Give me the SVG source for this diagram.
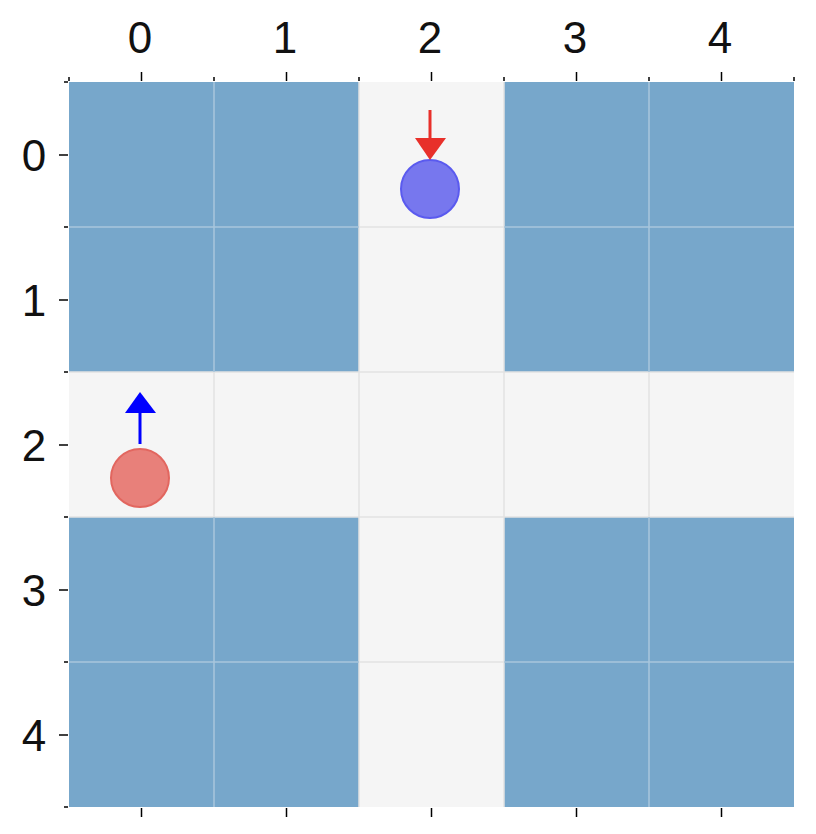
<svg xmlns="http://www.w3.org/2000/svg" width="816" height="834" viewBox="0 0 816 834">
<style>
.w{fill:#77a7cb}
.f{fill:#f5f5f5}
.gl{stroke:#e2e2e2;stroke-width:1.5}
.gw{stroke:#a8c6dd;stroke-width:1.5}
.tk{stroke:#000;stroke-width:1.5}
.lbl{font-family:"Liberation Sans","DejaVu Sans",sans-serif;font-size:44px;fill:#111}
</style>
<rect width="816" height="834" fill="#fff"/>
<g id="grid">
<rect class="f" x="69" y="82" width="725" height="725"/>
<rect class="w" x="69" y="82" width="290" height="290"/>
<rect class="w" x="504" y="82" width="290" height="290"/>
<rect class="w" x="69" y="517" width="290" height="290"/>
<rect class="w" x="504" y="517" width="290" height="290"/>
<g class="gl">
<line x1="359" y1="227" x2="504" y2="227"/>
<line x1="69" y1="372" x2="794" y2="372"/>
<line x1="69" y1="517" x2="794" y2="517"/>
<line x1="359" y1="662" x2="504" y2="662"/>
<line x1="214" y1="372" x2="214" y2="517"/>
<line x1="359" y1="82" x2="359" y2="807"/>
<line x1="504" y1="82" x2="504" y2="807"/>
<line x1="649" y1="372" x2="649" y2="517"/>
</g>
<g class="gw">
<line x1="214" y1="82" x2="214" y2="372"/>
<line x1="649" y1="82" x2="649" y2="372"/>
<line x1="214" y1="517" x2="214" y2="807"/>
<line x1="649" y1="517" x2="649" y2="807"/>
<line x1="69" y1="227" x2="359" y2="227"/>
<line x1="504" y1="227" x2="794" y2="227"/>
<line x1="69" y1="662" x2="359" y2="662"/>
<line x1="504" y1="662" x2="794" y2="662"/>
</g>
</g>
<g id="axes">
<g class="tk">
<line x1="141.5" y1="72" x2="141.5" y2="81"/>
<line x1="286.5" y1="72" x2="286.5" y2="81"/>
<line x1="431.5" y1="72" x2="431.5" y2="81"/>
<line x1="576.5" y1="72" x2="576.5" y2="81"/>
<line x1="721.5" y1="72" x2="721.5" y2="81"/>
<line x1="69" y1="77" x2="69" y2="81"/>
<line x1="214" y1="77" x2="214" y2="81"/>
<line x1="359" y1="77" x2="359" y2="81"/>
<line x1="504" y1="77" x2="504" y2="81"/>
<line x1="649" y1="77" x2="649" y2="81"/>
<line x1="794" y1="77" x2="794" y2="81"/>
<line x1="141.5" y1="808" x2="141.5" y2="817"/>
<line x1="286.5" y1="808" x2="286.5" y2="817"/>
<line x1="431.5" y1="808" x2="431.5" y2="817"/>
<line x1="576.5" y1="808" x2="576.5" y2="817"/>
<line x1="721.5" y1="808" x2="721.5" y2="817"/>
<line x1="59" y1="155" x2="68" y2="155"/>
<line x1="59" y1="300" x2="68" y2="300"/>
<line x1="59" y1="445" x2="68" y2="445"/>
<line x1="59" y1="590" x2="68" y2="590"/>
<line x1="59" y1="735" x2="68" y2="735"/>
<line x1="64" y1="82" x2="68" y2="82"/>
<line x1="64" y1="227" x2="68" y2="227"/>
<line x1="64" y1="372" x2="68" y2="372"/>
<line x1="64" y1="517" x2="68" y2="517"/>
<line x1="64" y1="662" x2="68" y2="662"/>
<line x1="64" y1="807" x2="68" y2="807"/>
</g>
<g class="lbl" text-anchor="middle">
<text x="140" y="53">0</text>
<text x="285" y="53">1</text>
<text x="430" y="53">2</text>
<text x="575" y="53">3</text>
<text x="720" y="53">4</text>
<text x="34" y="171">0</text>
<text x="34" y="316">1</text>
<text x="34" y="461">2</text>
<text x="34" y="606">3</text>
<text x="34" y="751">4</text>
</g>
</g>
<g id="agent-blue">
<circle cx="430" cy="189" r="29" fill="#7777ee" stroke="#5a5aef" stroke-width="2"/>
</g>
<g id="agent-red">
<circle cx="140" cy="478" r="29" fill="#e8807a" stroke="#e2665f" stroke-width="2"/>
</g>
<g id="connectors">
<line x1="430" y1="110" x2="430" y2="140" stroke="#e8302a" stroke-width="3"/>
<polygon points="415,138 446,138 430,160" fill="#e8302a"/>
<line x1="140" y1="444" x2="140" y2="410" stroke="#0000ff" stroke-width="3"/>
<polygon points="125,413 156,413 140,392" fill="#0000ff"/>
</g>
</svg>
